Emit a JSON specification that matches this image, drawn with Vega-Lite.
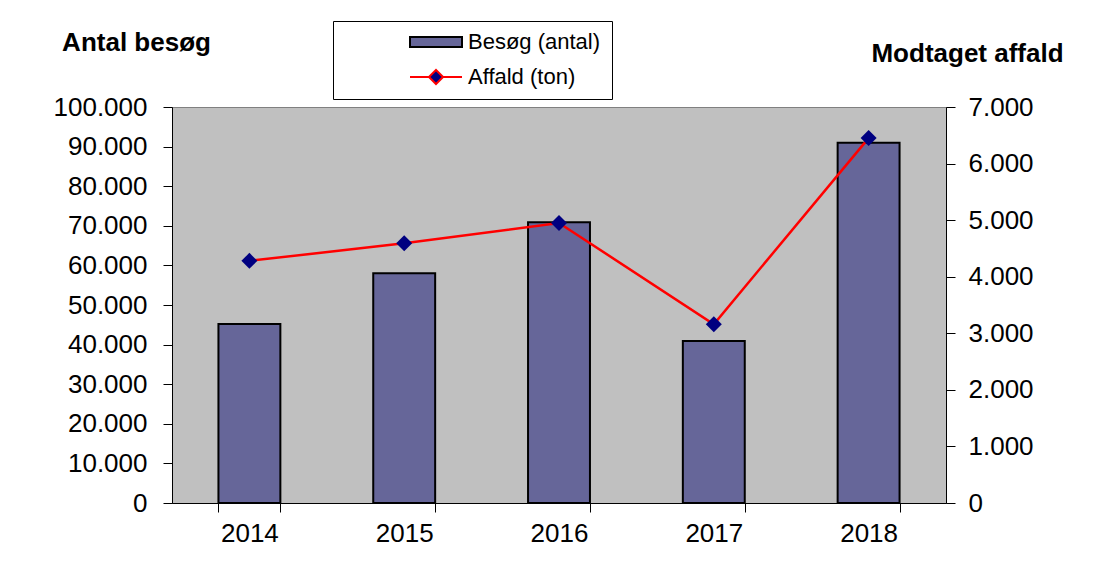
{
  "$schema": "https://vega.github.io/schema/vega-lite/v6.json",
  "width": 774,
  "height": 396,
  "autosize": "none",
  "padding": {"left": 172, "top": 107, "right": 169, "bottom": 75},
  "background": "white",
  "config": {
    "locale": {"number": {"decimal": ",", "thousands": ".", "grouping": [3], "currency": ["", ""]}},
    "font": "Liberation Sans",
    "view": {"fill": "#c0c0c0", "stroke": "#808080", "strokeWidth": 1},
    "axis": {
      "labelFont": "Liberation Sans", "labelFontSize": 26, "labelColor": "black",
      "domainColor": "black", "tickColor": "black", "grid": false,
      "titleFont": "Liberation Sans", "titleFontSize": 26, "titleFontWeight": "bold", "titleColor": "black"
    },
    "legend": {
      "symbolSize": 2704, "clipHeight": 20, "padding": 11,
      "labelFontSize": 22, "labelFont": "Liberation Sans", "labelColor": "black",
      "symbolOffset": 65, "labelOffset": 5
    }
  },
  "data": {"values": [
    {"year": "2014", "besog": 45200, "affald": 4280},
    {"year": "2015", "besog": 58000, "affald": 4590},
    {"year": "2016", "besog": 70900, "affald": 4950},
    {"year": "2017", "besog": 40900, "affald": 3160},
    {"year": "2018", "besog": 91000, "affald": 6450}
  ]},
  "encoding": {
    "x": {
      "field": "year", "type": "ordinal",
      "scale": {"paddingInner": 0.6, "paddingOuter": 0.3},
      "axis": {"title": null, "labelAngle": 0, "tickBand": "extent", "tickSize": 9, "labelPadding": 8}
    }
  },
  "layer": [
    {
      "mark": {"type": "bar", "stroke": "black", "strokeWidth": 2},
      "encoding": {
        "y": {
          "field": "besog", "type": "quantitative",
          "scale": {"domain": [0, 100000]},
          "axis": {
            "title": "Antal besøg",
            "values": [0, 10000, 20000, 30000, 40000, 50000, 60000, 70000, 80000, 90000, 100000],
            "format": ",d", "tickSize": 9, "labelPadding": 16,
            "titleAngle": 0, "titleX": -36, "titleY": -65, "titleAlign": "center", "titleBaseline": "middle"
          }
        },
        "fill": {
          "datum": "Besøg (antal)", "type": "nominal",
          "scale": {"range": ["#666699"]},
          "legend": {
            "orient": "none", "legendX": 161, "legendY": -86,
            "title": " ", "titleOrient": "bottom", "titlePadding": 15, "titleFontSize": 20,
            "strokeColor": "black",
            "symbolType": "M-1,-0.19H1V0.19H-1Z",
            "symbolStrokeColor": "black", "symbolStrokeWidth": 2
          }
        }
      }
    },
    {
      "encoding": {
        "y": {
          "field": "affald", "type": "quantitative",
          "scale": {"domain": [0, 7000]},
          "axis": {
            "orient": "right", "title": "Modtaget affald",
            "values": [0, 1000, 2000, 3000, 4000, 5000, 6000, 7000],
            "format": ",d", "tickSize": 9, "labelPadding": 13,
            "titleAngle": 0, "titleX": 21, "titleY": -54, "titleAlign": "center", "titleBaseline": "middle"
          }
        }
      },
      "layer": [
        {
          "mark": {"type": "line", "strokeWidth": 2.5},
          "encoding": {
            "stroke": {
              "datum": "Affald (ton)", "type": "nominal",
              "scale": {"range": ["#ff0000"]},
              "legend": {
                "orient": "none", "legendX": 161, "legendY": -51,
                "title": null,
                "symbolType": "M-1,0H-0.27L0,-0.27L0.27,0H1M0.27,0L0,0.27L-0.27,0",
                "symbolFillColor": "#000080", "symbolStrokeWidth": 2
              }
            }
          }
        },
        {
          "mark": {"type": "point", "shape": "diamond", "filled": true, "size": 256, "color": "#000080", "opacity": 1},
          "encoding": {}
        }
      ]
    }
  ],
  "resolve": {"scale": {"y": "independent"}}
}
